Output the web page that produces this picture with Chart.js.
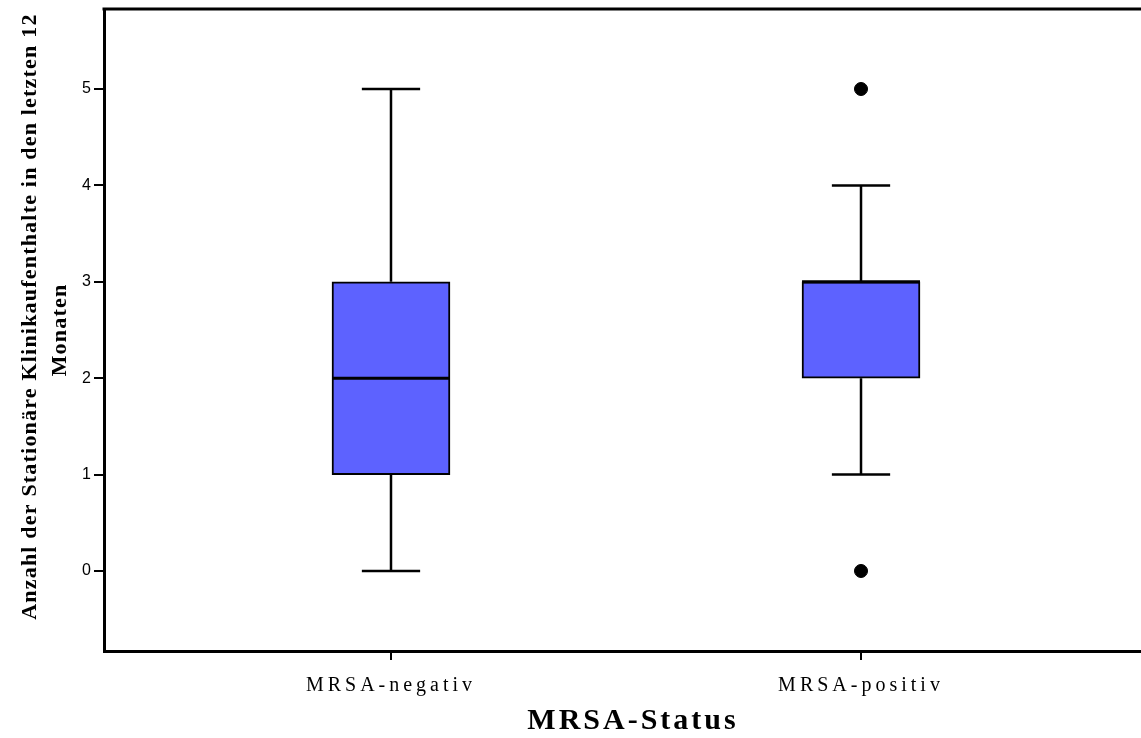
<!DOCTYPE html>
<html lang="de">
<head>
    <meta charset="UTF-8">
    <title>MRSA-Status Boxplot</title>
    <script src="https://cdn.jsdelivr.net/npm/chart.js"></script>
    <style>
        body { margin: 0; background: #ffffff; }
        #wrap { width: 1141px; height: 738px; }
    </style>
</head>
<body>
    <div id="wrap">
        <canvas id="boxChart" width="1141" height="738"></canvas>
    </div>
    <script>
        const categories = ['MRSA-negativ', 'MRSA-positiv'];
        const positions = [1, 2];
        const minValues = [0, 1];
        const q1Values = [1, 2];
        const medianValues = [2, 3];
        const q3Values = [3, 3];
        const maxValues = [5, 4];
        const outlierValues = [[], [0, 5]];
        const yTicks = [0, 1, 2, 3, 4, 5];

        const boxHalf = 0.1255;
        const capHalf = 0.062;

        const boxData = positions.map((p, i) => ({ x: p, y: [q1Values[i], q3Values[i]] }));

        const whiskerData = [];
        const capData = [];
        const medianData = [];
        const outlierData = [];
        positions.forEach((p, i) =>
        {
            const gap = { x: p, y: null };
            whiskerData.push({ x: p, y: minValues[i] }, { x: p, y: q1Values[i] }, gap);
            whiskerData.push({ x: p, y: q3Values[i] }, { x: p, y: maxValues[i] }, gap);
            capData.push({ x: p - capHalf, y: minValues[i] }, { x: p + capHalf, y: minValues[i] }, gap);
            capData.push({ x: p - capHalf, y: maxValues[i] }, { x: p + capHalf, y: maxValues[i] }, gap);
            medianData.push({ x: p - boxHalf, y: medianValues[i] }, { x: p + boxHalf, y: medianValues[i] }, gap);
            outlierValues[i].forEach(v => outlierData.push({ x: p, y: v }));
        });

        // SPSS-Schrift wirkt gesperrt: Buchstabenabstand fuer Achsentexte
        const spacingPlugin =
        {
            id: 'spacing',
            beforeDraw(chart)
            {
                const rules = { x: { drawLabels: '4px', drawTitle: '3px' }, y: { drawTitle: '1.2px' } };
                Object.keys(rules).forEach(id =>
                {
                    const scale = chart.scales[id];
                    if (!scale || scale._spaced) return;
                    scale._spaced = true;
                    Object.keys(rules[id]).forEach(fn =>
                    {
                        const orig = scale[fn];
                        scale[fn] = function(...args)
                        {
                            this.ctx.save();
                            this.ctx.letterSpacing = rules[id][fn];
                            orig.apply(this, args);
                            this.ctx.restore();
                        };
                    });
                });
            },
            afterDraw(chart)
            {
                const { ctx, chartArea } = chart;
                ctx.save();
                ctx.strokeStyle = '#000000';
                ctx.lineWidth = 3;
                ctx.beginPath();
                ctx.moveTo(chartArea.left - 1.5, chartArea.top);
                ctx.lineTo(chart.width, chartArea.top);
                ctx.stroke();
                ctx.restore();
            }
        };

        const lineDefaults =
        {
            type: 'line',
            borderColor: '#000000',
            pointRadius: 0,
            spanGaps: false,
            fill: false
        };

        const ctx = document.getElementById('boxChart').getContext('2d');
        new Chart(ctx,
        {
            type: 'bar',
            data:
            {
                datasets:
                [
                    Object.assign({}, lineDefaults, { data: whiskerData, borderWidth: 2.5, order: 4 }),
                    Object.assign({}, lineDefaults, { data: capData, borderWidth: 2.5, order: 3 }),
                    {
                        type: 'bar',
                        data: boxData,
                        backgroundColor: '#5d62ff',
                        borderColor: '#000000',
                        borderWidth: 2,
                        borderSkipped: false,
                        barThickness: 118,
                        order: 2
                    },
                    Object.assign({}, lineDefaults, { data: medianData, borderWidth: 3, order: 1 }),
                    {
                        type: 'scatter',
                        data: outlierData,
                        pointRadius: 6.5,
                        pointBackgroundColor: '#000000',
                        pointBorderColor: '#000000',
                        order: 0
                    }
                ]
            },
            options:
            {
                responsive: false,
                animation: false,
                layout: { autoPadding: false, padding: { top: 9, left: 0, right: 0, bottom: 0 } },
                plugins:
                {
                    legend: { display: false },
                    tooltip: { enabled: false }
                },
                scales:
                {
                    x:
                    {
                        type: 'linear',
                        offset: false,
                        min: 0.3894,
                        max: 2.5957,
                        afterBuildTicks: scale => { scale.ticks = positions.map(v => ({ value: v })); },
                        afterFit: scale => { scale.height = 87; scale.paddingRight = 0; scale.paddingLeft = 0; },
                        ticks:
                        {
                            callback: (v) => categories[positions.indexOf(v)],
                            color: '#000000',
                            font: { family: 'Liberation Serif', size: 20 },
                            padding: 14,
                            maxRotation: 0,
                            autoSkip: false
                        },
                        grid: { offset: false, drawOnChartArea: false, tickLength: 9, color: '#000000', lineWidth: 2 },
                        border: { color: '#000000', width: 3 },
                        title:
                        {
                            display: true,
                            text: '  MRSA-Status',
                            color: '#000000',
                            font: { family: 'Liberation Serif', size: 30, weight: 'bold', lineHeight: 1.1 },
                            padding: { top: 0, bottom: 0 }
                        }
                    },
                    y:
                    {
                        min: -0.83,
                        max: 5.83,
                        afterBuildTicks: scale => { scale.ticks = yTicks.map(v => ({ value: v })); },
                        afterFit: scale => { scale.width = 104; scale.paddingTop = 0; scale.paddingBottom = 0; },
                        ticks:
                        {
                            color: '#000000',
                            font: { family: 'Liberation Sans', size: 16 },
                            padding: 3
                        },
                        grid: { drawOnChartArea: false, tickLength: 10, color: '#000000', lineWidth: 2 },
                        border: { color: '#000000', width: 3 },
                        title:
                        {
                            display: true,
                            text: ['    Anzahl der Stationäre Klinikaufenthalte in den letzten 12', 'Monaten'],
                            color: '#000000',
                            font: { family: 'Liberation Serif', size: 22, weight: 'bold', lineHeight: 1.36 },
                            padding: { top: 15, bottom: 0 }
                        }
                    }
                }
            },
            plugins: [spacingPlugin]
        });
    </script>
</body>
</html>
